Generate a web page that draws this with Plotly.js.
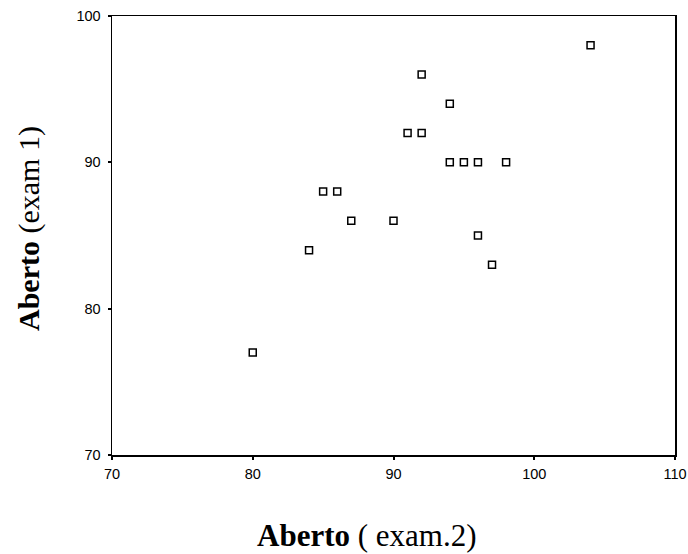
<!DOCTYPE html>
<html>
<head>
<meta charset="utf-8">
<script src="https://cdn.plot.ly/plotly-3.0.1.min.js"></script>
<style>html,body{margin:0;padding:0;background:#fff;}#chart{width:688px;height:554px;}</style>
</head>
<body>
<div id="chart"></div>
<script>
var exam2 = [80, 84, 85, 86, 87, 90, 91, 92, 92, 94, 94, 95, 96, 98, 96, 97, 104];
var exam1 = [77, 84, 88, 88, 86, 86, 92, 92, 96, 94, 90, 90, 90, 90, 85, 83, 98];
var xTicks = [70, 80, 90, 100, 110];
var yTicks = [70, 80, 90, 100];

var trace = {
  x: exam2, y: exam1, mode: 'markers', type: 'scatter',
  marker: {symbol: 'square-open', size: 7, color: '#000', line: {width: 1.5, color: '#000'}},
  hoverinfo: 'x+y'
};

var axisCommon = {
  showgrid: false, zeroline: false, showline: true, linecolor: '#000', linewidth: 1.5,
  mirror: true, ticks: 'outside', ticklen: 3, tickwidth: 2, tickcolor: '#000',
  tickfont: {family: 'Liberation Sans, Arial, sans-serif', size: 14.5, color: '#000'}
};

var layout = {
  width: 688, height: 554,
  margin: {l: 112, r: 13, t: 16, b: 99},
  paper_bgcolor: '#fff', plot_bgcolor: '#fff',
  showlegend: false,
  xaxis: Object.assign({}, axisCommon, {range: [70, 110], tickvals: xTicks, ticktext: xTicks.map(String), ticklabelstandoff: 2}),
  yaxis: Object.assign({}, axisCommon, {range: [70, 100], tickvals: yTicks, ticktext: yTicks.map(String), ticklabelstandoff: 4}),
  annotations: [
    {text: '<b>Aberto</b> ( exam.2)', xref: 'paper', yref: 'paper', x: (367 - 112) / 563, y: -(535 - 455) / 439,
     xanchor: 'center', yanchor: 'middle', showarrow: false,
     font: {family: 'Liberation Serif, Times New Roman, serif', size: 31, color: '#000'}},
    {text: '<b>Aberto</b> (exam 1)', xref: 'paper', yref: 'paper', x: -(112 - 29) / 563, y: (455 - 229) / 439,
     xanchor: 'center', yanchor: 'middle', textangle: -90, showarrow: false,
     font: {family: 'Liberation Serif, Times New Roman, serif', size: 30, color: '#000'}}
  ]
};

Plotly.newPlot('chart', [trace], layout, {displayModeBar: false, staticPlot: true});
</script>
</body>
</html>
